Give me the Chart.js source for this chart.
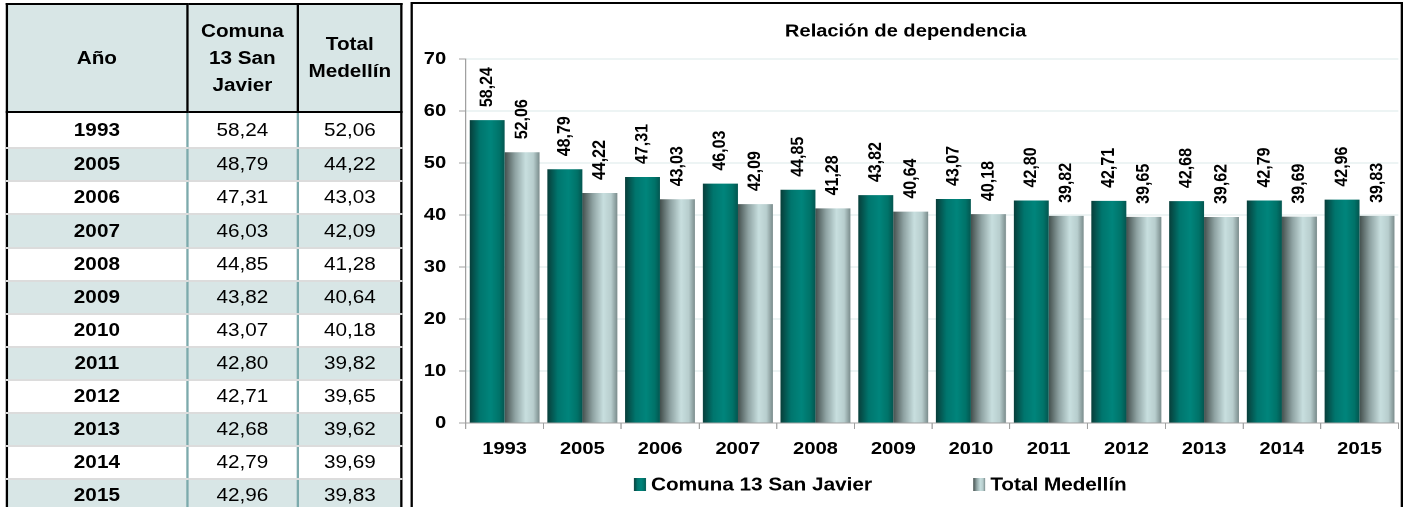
<!DOCTYPE html>
<html>
<head>
<meta charset="utf-8">
<script src="https://cdn.jsdelivr.net/npm/chart.js@4.4.1/dist/chart.umd.min.js"></script>
<style>
  html, body { margin:0; padding:0; background:#fff; width:1408px; height:507px; overflow:hidden; }
  #wrap { position:absolute; left:0; top:0; width:1225px; height:507px; transform:scaleX(1.15); transform-origin:0 0; }
  #tbl { position:absolute; left:5px; top:3px; border-collapse:collapse; table-layout:fixed;
         font-family:'Liberation Sans', Arial, sans-serif; font-size:18px; color:#000; }
  #tbl th { border:2px solid #000; background:#d8e6e6; font-weight:bold; line-height:27px; height:106px; padding:0; text-align:center; vertical-align:middle; }
  #tbl td { height:31.1px; padding:0; text-align:center; vertical-align:middle; border-top:none;
            border-bottom:2px solid #dcdcdc; border-left:2px solid #7caaac; border-right:2px solid #7caaac; }
  #tbl tr.first td { height:33.3px; padding-top:1px; }
  #tbl td.c0 { border-left:2px solid #000; font-weight:bold; }
  #tbl td.c2 { border-right:2px solid #000; }
  #tbl tr.alt td { background:#d8e6e6; }
  #box { position:absolute; left:357px; top:2px; width:859px; height:520px; border:2px solid #000; background:#fff; }
  #cv { position:relative; width:859px; height:503px; }
</style>
</head>
<body>
<div id="wrap">
  <table id="tbl">
    <colgroup><col style="width:156.5px"><col style="width:96.5px"><col style="width:90.4px"></colgroup>
    <thead><tr><th>Año</th><th>Comuna<br>13 San<br>Javier</th><th>Total<br>Medellín</th></tr></thead>
    <tbody id="tb"></tbody>
  </table>
  <div id="box"><div id="cv"><canvas id="c"></canvas></div></div>
</div>
<script>
const years = ['1993','2005','2006','2007','2008','2009','2010','2011','2012','2013','2014','2015'];
const comuna = [58.24, 48.79, 47.31, 46.03, 44.85, 43.82, 43.07, 42.80, 42.71, 42.68, 42.79, 42.96];
const medellin = [52.06, 44.22, 43.03, 42.09, 41.28, 40.64, 40.18, 39.82, 39.65, 39.62, 39.69, 39.83];
const seriesNames = ['Comuna 13 San Javier', 'Total Medellín'];
const chartTitle = 'Relación de dependencia';

const fmt = v => v.toFixed(2).replace('.', ',');

// table
const tb = document.getElementById('tb');
years.forEach((y, i) => {
  const tr = document.createElement('tr');
  const cls = [];
  if (i % 2 === 1) cls.push('alt');
  if (i === 0) cls.push('first');
  tr.className = cls.join(' ');
  tr.innerHTML = '<td class="c0">' + y + '</td><td class="c1">' + fmt(comuna[i]) + '</td><td class="c2">' + fmt(medellin[i]) + '</td>';
  tb.appendChild(tr);
});

const FONT = "'Liberation Sans', Arial, sans-serif";
Chart.defaults.font.family = FONT;

const tealStops = [[0,'#083e3a'],[0.3,'#00766e'],[0.6,'#00857c'],[0.85,'#007369'],[1,'#045650']];
const grayStops = [[0,'#44504e'],[0.3,'#8fa3a3'],[0.6,'#c8dfdf'],[0.82,'#b8cece'],[1,'#7a8c8c']];

function makeGrad(c, x0, x1, stops) {
  const g = c.createLinearGradient(x0, 0, x1, 0);
  stops.forEach(s => g.addColorStop(s[0], s[1]));
  return g;
}

function barFill(stops) {
  return function(ctx) {
    const chart = ctx.chart;
    if (!chart.chartArea || ctx.type !== 'data') return stops[2][1];
    const xs = chart.scales.x;
    const n = chart.data.labels.length;
    const groupW = (xs.width / n) * 0.9;
    const barW = groupW / chart.data.datasets.length;
    const left = xs.getPixelForValue(ctx.dataIndex) - groupW / 2 + ctx.datasetIndex * barW;
    return makeGrad(chart.ctx, left, left + barW, stops);
  };
}

const valueLabels = {
  id: 'valueLabels',
  afterDatasetsDraw(chart) {
    const c = chart.ctx;
    c.save();
    c.font = 'bold 16px ' + FONT;
    c.fillStyle = '#000';
    c.textAlign = 'left';
    c.textBaseline = 'middle';
    chart.data.datasets.forEach((ds, di) => {
      chart.getDatasetMeta(di).data.forEach((el, i) => {
        c.save();
        c.translate(el.x, el.y - 13);
        c.rotate(-Math.PI / 2);
        c.fillText(fmt(ds.data[i]), 0, 0);
        c.restore();
      });
    });
    c.restore();
  }
};

const customLegend = {
  id: 'customLegend',
  afterDraw(chart) {
    const c = chart.ctx;
    const a = chart.chartArea;
    c.save();
    c.font = 'bold 18px ' + FONT;
    c.textBaseline = 'middle';
    c.fillStyle = '#000';
    const boxW = 10.4, boxH = 13, gap = 4.5, spacing = 88;
    const items = chart.data.datasets.map(ds => ({ text: ds.label, stops: ds.legendStops, w: c.measureText(ds.label).width }));
    let total = 0;
    items.forEach((it, i) => { total += boxW + gap + it.w + (i ? spacing : 0); });
    const cx = (a.left + a.right) / 2 - 45;
    const cy = a.bottom + 61.5;
    let x = cx - total / 2;
    items.forEach(it => {
      c.fillStyle = makeGrad(c, x, x + boxW, it.stops);
      c.fillRect(x, cy - boxH / 2, boxW, boxH);
      c.fillStyle = '#000';
      c.textAlign = 'left';
      c.fillText(it.text, x + boxW + gap, cy + 1);
      x += boxW + gap + it.w + spacing;
    });
    c.restore();
  }
};

new Chart(document.getElementById('c'), {
  type: 'bar',
  data: {
    labels: years,
    datasets: [
      { label: seriesNames[0], data: comuna, backgroundColor: barFill(tealStops), legendStops: tealStops,
        borderWidth: 0, categoryPercentage: 0.9, barPercentage: 1.0 },
      { label: seriesNames[1], data: medellin, backgroundColor: barFill(grayStops), legendStops: grayStops,
        borderWidth: 0, categoryPercentage: 0.9, barPercentage: 1.0 }
    ]
  },
  options: {
    responsive: true,
    maintainAspectRatio: false,
    animation: false,
    devicePixelRatio: 2,
    events: [],
    layout: { padding: { left: 0, right: 2, top: 0, bottom: 38 } },
    plugins: {
      legend: { display: false },
      tooltip: { enabled: false },
      title: { display: true, text: chartTitle, color: '#000', font: { size: 17.5, weight: 'bold' }, padding: { top: 17, bottom: 17 } }
    },
    scales: {
      x: {
        grid: { display: true, drawOnChartArea: false, drawTicks: true, tickLength: 6, tickColor: '#a0a0a0', offset: true },
        border: { display: true, color: '#a0a0a0', width: 1 },
        ticks: { color: '#000', font: { size: 17.5, weight: 'bold' }, padding: 9.5, maxRotation: 0, autoSkip: false }
      },
      y: {
        min: 0, max: 70,
        ticks: { stepSize: 10, color: '#000', font: { size: 17.5, weight: 'bold' }, padding: 11 },
        grid: { color: ctx => (ctx.tick && ctx.tick.value === 0) ? '#a0a0a0' : '#dbe9e9', tickColor: '#a0a0a0', tickLength: 6 },
        border: { display: true, color: '#a0a0a0', width: 1 },
        afterFit(s) { s.width = 46; }
      }
    }
  },
  plugins: [valueLabels, customLegend]
});
</script>
</body>
</html>
